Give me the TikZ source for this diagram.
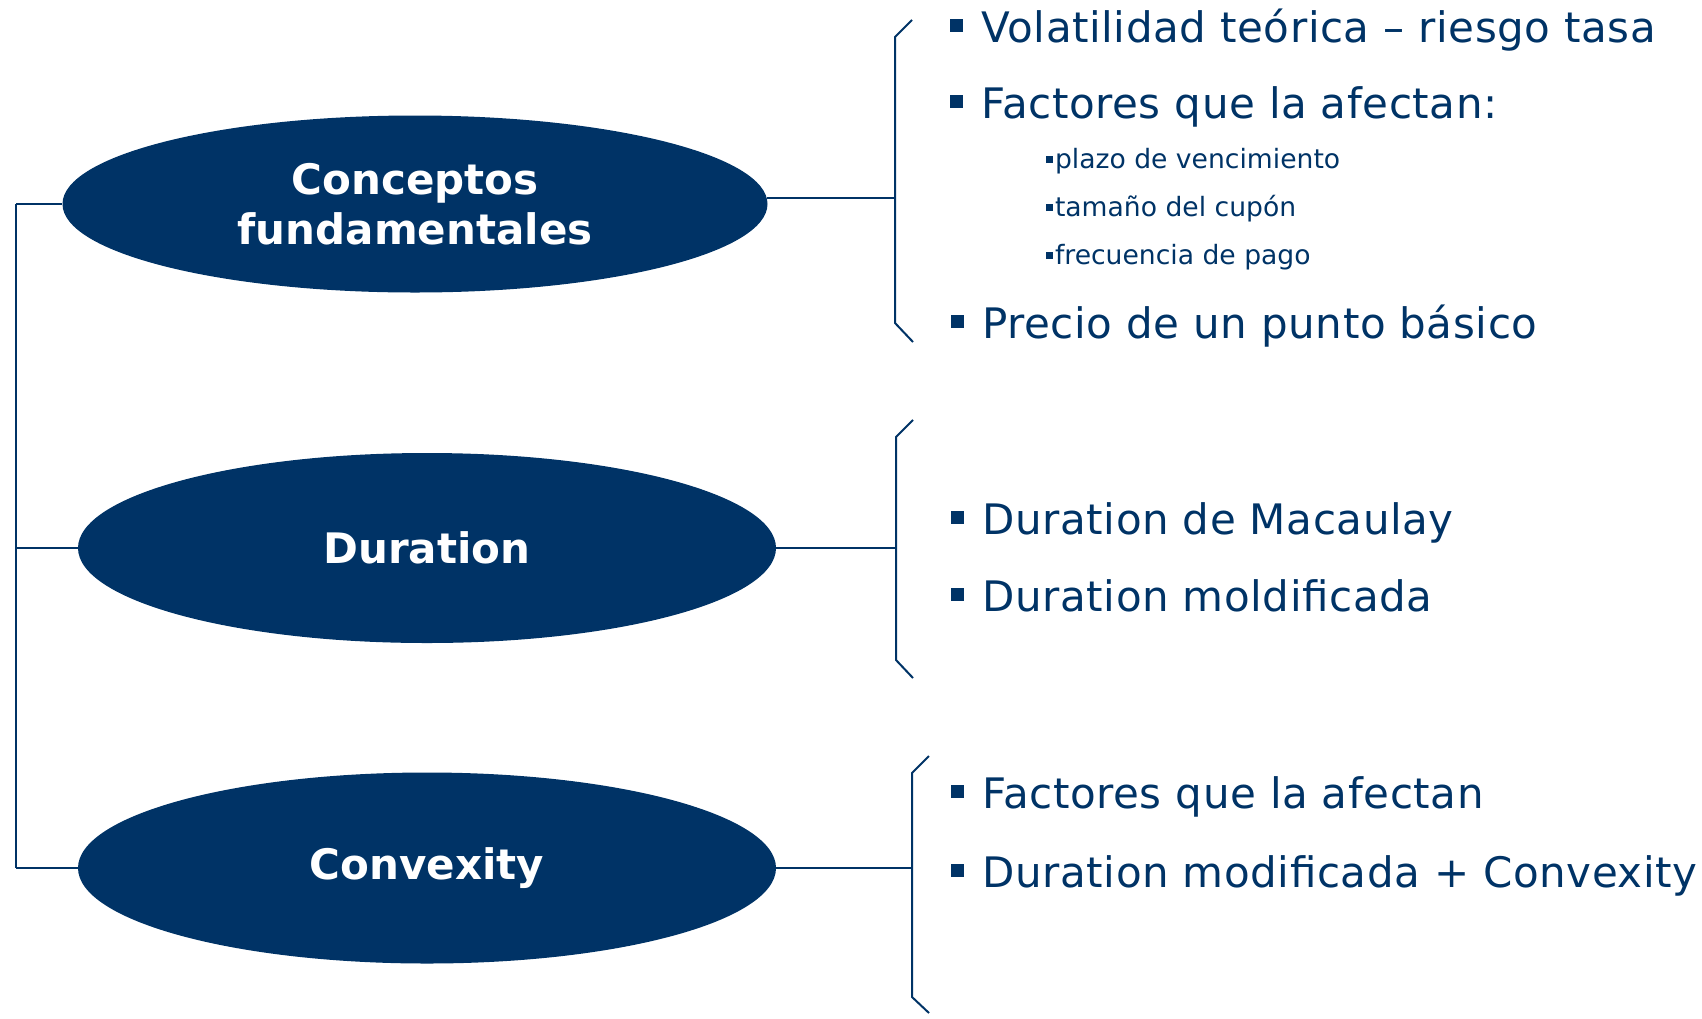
\documentclass[tikz,border=0pt]{standalone}
\usepackage{fontspec}
\setmainfont{DejaVu Sans}
\usetikzlibrary{shapes.geometric}
\definecolor{navy}{RGB}{0,51,102}
\newcommand{\bigsq}{\rule[5pt]{6.5pt}{6.5pt}\hspace{9pt}}
\newcommand{\smallsq}{\rule[2.5pt]{3.5pt}{3.5pt}\hspace{0.8pt}}

\begin{document}
\begin{tikzpicture}[x=0.5pt, y=-0.5pt,
  conn/.style={navy, line width=1pt},
  topic/.style={ellipse, fill=navy, text=white, inner sep=0pt, align=center,
    font=\fontsize{21}{25}\selectfont\bfseries},
  item/.style={anchor=base west, inner sep=0pt, text=navy,
    font=\fontsize{21}{25}\selectfont\addfontfeature{LetterSpace=1.4}},
  subitem/.style={anchor=base west, inner sep=0pt, text=navy,
    font=\fontsize{13.3}{16}\selectfont}]
  \useasboundingbox (0,0) rectangle (1702,1018);
  % topics
  \node[topic, minimum width=352.5pt, minimum height=88.5pt] (concepts) at (415,204)
    {Conceptos\\fundamentales};
  \node[topic, minimum width=349pt, minimum height=95pt] (duration) at (427,548) {Duration};
  \node[topic, minimum width=349pt, minimum height=95.5pt] (convexity) at (427,868) {Convexity};
  % left trunk
  \coordinate (trunk) at (16,0);
  \draw[conn] (concepts.west -| trunk) -- (convexity.west -| trunk);
  \foreach \t in {concepts,duration,convexity}
    \draw[conn] (\t.west -| trunk) -- (\t.west);
  % brackets on the right
  \coordinate (brA) at (895,0);
  \coordinate (brB) at (896,0);
  \coordinate (brC) at (912,0);
  \draw[conn] (912,20) -- (895,37) -- (895,323) -- (913,342);
  \draw[conn] (913,420) -- (896,437) -- (896,660) -- (913,678);
  \draw[conn] (929,756) -- (912,773) -- (912,997) -- (929,1013);
  \draw[conn] (concepts.1) -- (concepts.1 -| brA);
  \draw[conn] (duration.east) -- (duration.east -| brB);
  \draw[conn] (convexity.east) -- (convexity.east -| brC);
  % items
  \node[item] (volat) at (950,42) {\bigsq Volatilidad teórica – riesgo tasa};
  \node[item] (factA) at (950,118) {\bigsq Factores que la afectan:};
  \node[subitem] (plazo) at (1046,168) {\smallsq plazo de vencimiento};
  \node[subitem] (cupon) at (1046,216) {\smallsq tamaño del cupón};
  \node[subitem] (frec) at (1046,264) {\smallsq frecuencia de pago};
  \node[item] (precio) at (951,338) {\bigsq Precio de un punto básico};
  \node[item] (macaulay) at (951,534) {\bigsq Duration de Macaulay};
  \node[item] (moldif) at (951,611) {\bigsq Duration moldificada};
  \node[item] (factB) at (951,808) {\bigsq Factores que la afectan};
  \node[item] (modconv) at (951,887) {\bigsq Duration modificada + Convexity};
\end{tikzpicture}
\end{document}
